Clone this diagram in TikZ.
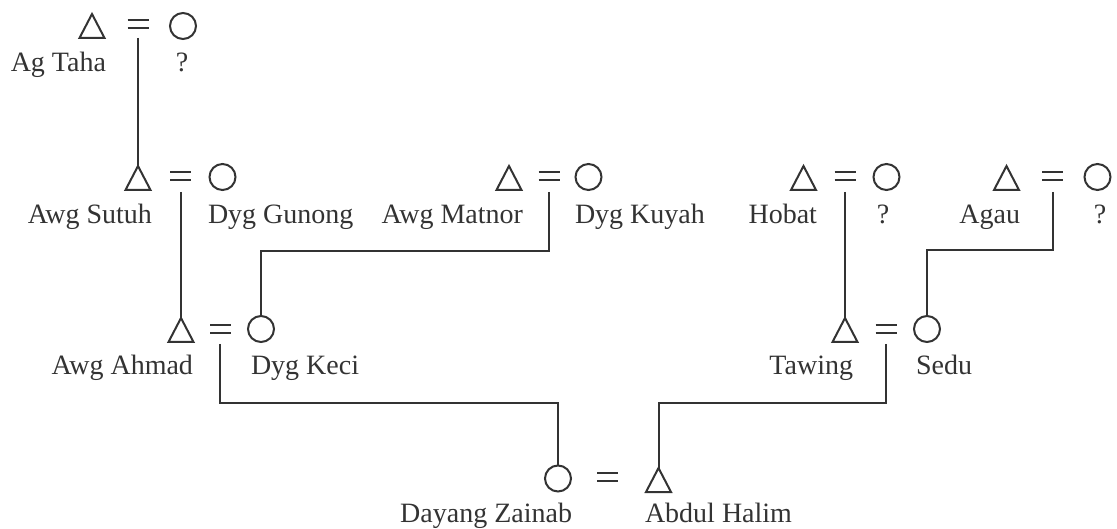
\documentclass[tikz,border=0pt]{standalone}
\usepackage{fontspec}
\setmainfont{Liberation Serif}
\usetikzlibrary{shapes.geometric}
\definecolor{ink}{HTML}{333333}
\begin{document}
\begin{tikzpicture}[x=1pt,y=-1pt,
  every node/.style={inner sep=0pt, outer sep=0pt},
  male/.style={isosceles triangle, isosceles triangle stretches, shape border rotate=90,
    minimum width=25pt, minimum height=24pt, draw=ink, line width=2pt, anchor=south},
  female/.style={circle, minimum size=26pt, draw=ink, line width=2pt},
  marr/.style={minimum width=21pt, minimum height=8pt},
  lbl/.style={text=ink, font=\fontsize{28}{30}\selectfont},
  link/.style={draw=ink, line width=2pt},
]
\useasboundingbox (0,0) rectangle (1117,529);

% generation 1
\node[male] (taha) at (92,38) {};
\node[marr] (m1) at (138,24) {};
\node[female] (taham) at (183,26) {};
\node[lbl, anchor=base east] (ltaha) at (106,72) {Ag Taha};
\node[lbl, anchor=base] (ltaham) at (182,72) {?};

% generation 2
\node[male] (sutuh) at (138,190) {};
\node[marr] (m2) at (180.5,176) {};
\node[female] (gunong) at (222.5,177) {};
\node[lbl, anchor=base east] (lsutuh) at (152,224) {Awg Sutuh};
\node[lbl, anchor=base west] (lgunong) at (208,224) {Dyg Gunong};

\node[male] (matnor) at (509,190) {};
\node[marr] (m3) at (549,176) {};
\node[female] (kuyah) at (588.5,177) {};
\node[lbl, anchor=base east] (lmatnor) at (523,224) {Awg Matnor};
\node[lbl, anchor=base west] (lkuyah) at (575,224) {Dyg Kuyah};

\node[male] (hobat) at (803.5,190) {};
\node[marr] (m4) at (845,176) {};
\node[female] (hobatw) at (886.5,177) {};
\node[lbl, anchor=base east] (lhobat) at (817,224) {Hobat};
\node[lbl, anchor=base] (lhobatw) at (883,224) {?};

\node[male] (agau) at (1006.5,190) {};
\node[marr] (m5) at (1052.5,176) {};
\node[female] (agauw) at (1097.5,177) {};
\node[lbl, anchor=base east] (lagau) at (1020,224) {Agau};
\node[lbl, anchor=base] (lagauw) at (1100,224) {?};

% generation 3
\node[male] (ahmad) at (181,342) {};
\node[marr] (m6) at (220.5,329) {};
\node[female] (keci) at (261,329) {};
\node[lbl, anchor=base east] (lahmad) at (193,374) {Awg Ahmad};
\node[lbl, anchor=base west] (lkeci) at (251,374) {Dyg Keci};

\node[male] (tawing) at (845,342) {};
\node[marr] (m7) at (886,329) {};
\node[female] (sedu) at (927,329) {};
\node[lbl, anchor=base east] (ltawing) at (853,374) {Tawing};
\node[lbl, anchor=base west] (lsedu) at (916,374) {Sedu};

% generation 4
\node[female] (zainab) at (558,478.5) {};
\node[marr] (m8) at (607.5,477) {};
\node[male] (halim) at (658.5,492) {};
\node[lbl, anchor=base east] (lzainab) at (572,522) {Dayang Zainab};
\node[lbl, anchor=base west] (lhalim) at (645,522) {Abdul Halim};

% marriage signs
\foreach \m in {m1,m2,m3,m4,m5,m6,m7,m8}
  \draw[link] (\m.north west) -- (\m.north east) (\m.south west) -- (\m.south east);

% descent lines
\coordinate (d1) at (138,38);
\coordinate (d2) at (181,192);
\coordinate (d3) at (549,192);
\coordinate (d4) at (845,192);
\coordinate (d5) at (1053,192);
\coordinate (d6) at (220,344);
\coordinate (d7) at (886,344);

\draw[link] (d1) -- (sutuh.apex);
\draw[link] (d2) -- (ahmad.apex);
\draw[link] (d3) |- (261,251) -- (keci.north);
\draw[link] (d4) -- (tawing.apex);
\draw[link] (d5) |- (927,250) -- (sedu.north);
\draw[link] (d6) |- (558,403) -- (zainab.north);
\draw[link] (d7) |- (658.5,403) -- (halim.apex);
\end{tikzpicture}
\end{document}
